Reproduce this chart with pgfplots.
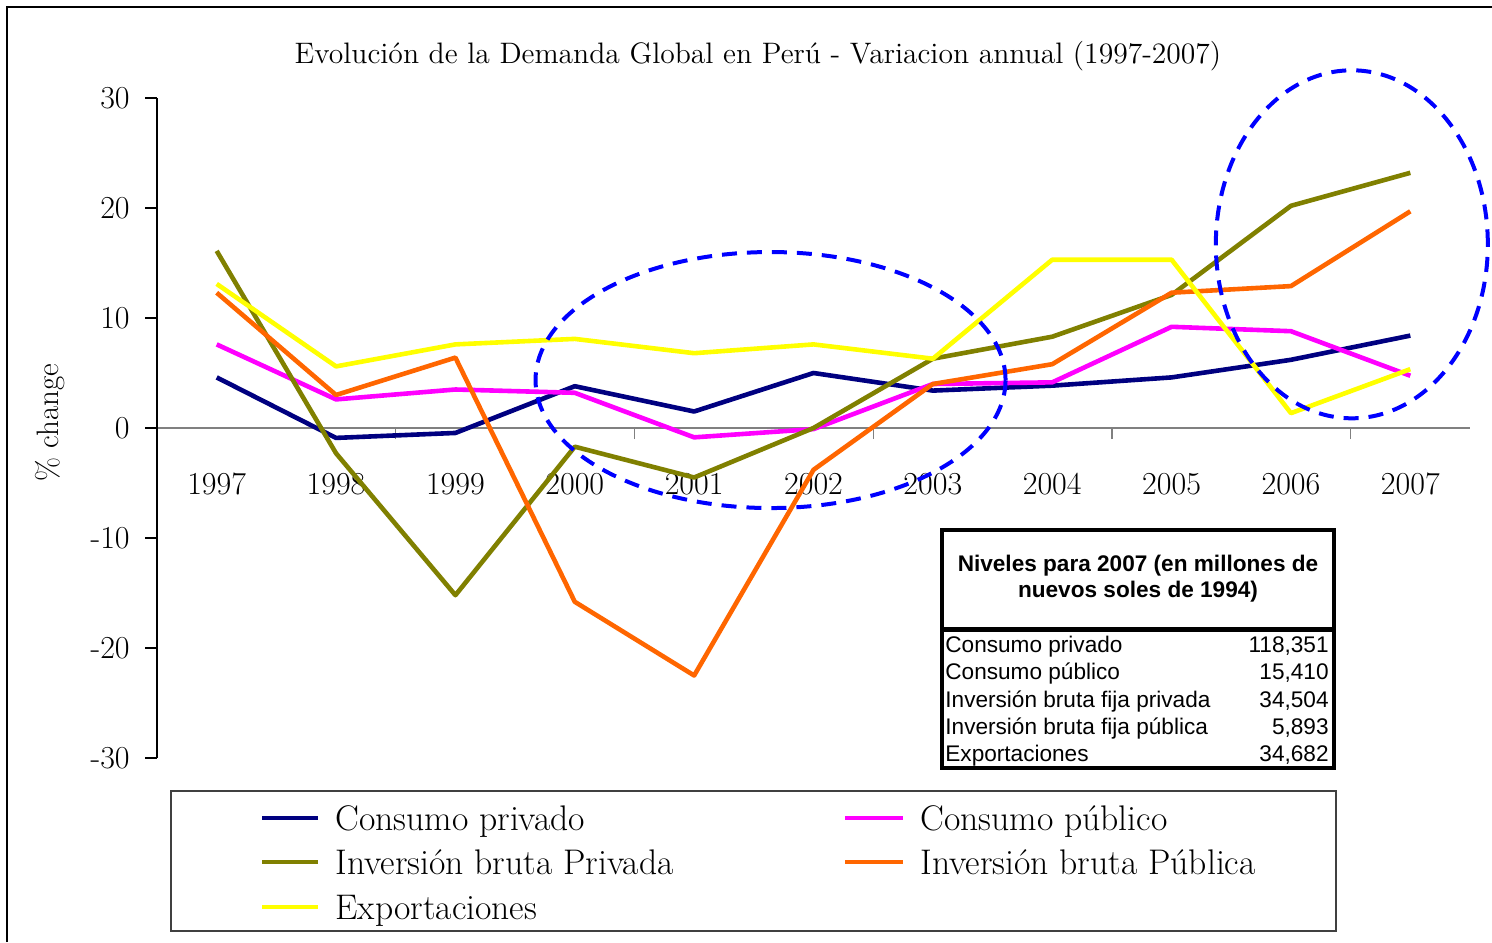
\documentclass[border=0pt]{standalone}
\usepackage{fontspec}
\usepackage{pgfplots}
\pgfplotsset{compat=1.18}
\newfontfamily\arialfont{Liberation Sans}
\definecolor{cpriv}{HTML}{000080}
\definecolor{cpub}{HTML}{FF00FF}
\definecolor{ipriv}{HTML}{808000}
\definecolor{ipub}{HTML}{FF6600}
\definecolor{expo}{HTML}{FFFF00}
\definecolor{ring}{HTML}{0000FF}

\begin{document}
\begin{tikzpicture}
\useasboundingbox (0,0) rectangle (746pt,471pt);
% outer frame (only top and left edges are visible)
\draw[line width=0.9pt] (3.5pt,0) -- (3.5pt,467.5pt) -- (746pt,467.5pt);

\begin{axis}[
  at={(78.5pt,92pt)}, anchor=south west,
  scale only axis, width=656.5pt, height=330pt,
  xmin=1996.5, xmax=2007.5, ymin=-30, ymax=30,
  axis x line=middle, axis y line=left,
  x axis line style={draw=black!50, line width=1pt, -},
  y axis line style={draw=black, line width=0.7pt, -},
  hide obscured x ticks=false, hide obscured y ticks=false,
  clip=false,
  tick align=outside, major tick length=6pt,
  ytick={-30,-20,-10,0,10,20,30},
  yticklabels={-30,-20,-10,0,10,20,30},
  ytick style={draw=black, line width=0.6pt},
  xtick={1997,1998,1999,2000,2001,2002,2003,2004,2005,2006,2007},
  xticklabels={1997,1998,1999,2000,2001,2002,2003,2004,2005,2006,2007},
  xtick style={draw=none},
  extra x ticks={1998.5,2000.5,2002.5,2004.5,2006.5},
  extra x tick labels={},
  extra x tick style={xtick style={draw=black!50, line width=0.6pt}, major tick length=5.5pt},
  tick label style={font=\fontsize{16}{18}\selectfont},
  xticklabel style={anchor=center, yshift=-22pt},
  yticklabel style={anchor=east, inner sep=0pt, xshift=-7.5pt},
  title={Evolución de la Demanda Global en Perú - Variacion annual (1997-2007)},
  title style={at={(axis description cs:0.4577,1.046)}, anchor=center, font=\fontsize{14.8}{17}\selectfont},
  ylabel={\% change},
  every axis y label/.style={at={(axis description cs:-0.0815,0.5076)}, anchor=center, rotate=90, font=\fontsize{15.5}{18}\selectfont},
  every axis plot/.append style={line width=2.3pt, line join=round, mark=none},
]
% Consumo privado
\addplot[cpriv] coordinates {(1997,4.6)(1998,-0.9)(1999,-0.45)(2000,3.8)(2001,1.5)(2002,5.0)(2003,3.4)(2004,3.85)(2005,4.6)(2006,6.2)(2007,8.4)};
% Consumo publico
\addplot[cpub] coordinates {(1997,7.6)(1998,2.6)(1999,3.5)(2000,3.2)(2001,-0.85)(2002,-0.1)(2003,4.0)(2004,4.15)(2005,9.2)(2006,8.8)(2007,4.75)};
% Inversion bruta privada
\addplot[ipriv] coordinates {(1997,16.1)(1998,-2.3)(1999,-15.2)(2000,-1.7)(2001,-4.5)(2002,0.0)(2003,6.3)(2004,8.3)(2005,12.1)(2006,20.2)(2007,23.2)};
% Inversion bruta publica
\addplot[ipub] coordinates {(1997,12.3)(1998,3.0)(1999,6.4)(2000,-15.8)(2001,-22.5)(2002,-3.8)(2003,4.0)(2004,5.8)(2005,12.3)(2006,12.9)(2007,19.7)};
% Exportaciones
\addplot[expo] coordinates {(1997,13.1)(1998,5.6)(1999,7.6)(2000,8.1)(2001,6.8)(2002,7.6)(2003,6.3)(2004,15.3)(2005,15.3)(2006,1.35)(2007,5.35)};

% highlight rings
\draw[ring, line width=2pt, dash pattern=on 7.5pt off 5pt]
  (axis cs:2001.64,4.36) ellipse [x radius=117.5pt, y radius=64pt];
\draw[ring, line width=2pt, dash pattern=on 7.5pt off 5pt]
  (axis cs:2006.51,16.7) ellipse [x radius=68pt, y radius=87pt];
\end{axis}

% inset table
\draw[line width=2pt] (471pt,87pt) rectangle (667pt,206pt);
\draw[line width=2.5pt] (471pt,156pt) -- (667pt,156pt);
\node[align=center, inner sep=0pt, font=\fontsize{11.3}{13}\selectfont\arialfont\bfseries]
  at (569pt,181.5pt) {Niveles para 2007 (en millones de\\nuevos soles de 1994)};
\begin{scope}[every node/.style={inner sep=0pt, font=\fontsize{11.3}{13}\selectfont\arialfont}]
  \node[anchor=base west] at (472.5pt,144.6pt) {Consumo privado};
  \node[anchor=base west] at (472.5pt,131pt) {Consumo público};
  \node[anchor=base west] at (472.5pt,117.4pt) {Inversión bruta fija privada};
  \node[anchor=base west] at (472.5pt,103.8pt) {Inversión bruta fija pública};
  \node[anchor=base west] at (472.5pt,90.2pt) {Exportaciones};
  \node[anchor=base east] at (664.5pt,144.6pt) {118,351};
  \node[anchor=base east] at (664.5pt,131pt) {15,410};
  \node[anchor=base east] at (664.5pt,117.4pt) {34,504};
  \node[anchor=base east] at (664.5pt,103.8pt) {5,893};
  \node[anchor=base east] at (664.5pt,90.2pt) {34,682};
\end{scope}

% legend
\draw[black!75, line width=0.6pt] (85.5pt,5.5pt) rectangle (668pt,75.5pt);
\begin{scope}[every node/.style={inner sep=0pt, anchor=base west, font=\fontsize{17.8}{20}\selectfont}]
  \draw[cpriv, line width=2.3pt] (131pt,62pt) -- (159pt,62pt);
  \node at (167.5pt,56pt) {Consumo privado};
  \draw[cpub, line width=2.3pt] (422.5pt,62pt) -- (451.5pt,62pt);
  \node at (460pt,56pt) {Consumo público};
  \draw[ipriv, line width=2.3pt] (131pt,40pt) -- (159pt,40pt);
  \node at (167.5pt,34pt) {Inversión bruta Privada};
  \draw[ipub, line width=2.3pt] (422.5pt,40pt) -- (451.5pt,40pt);
  \node at (460pt,34pt) {Inversión bruta Pública};
  \draw[expo, line width=2.3pt] (131pt,17.5pt) -- (159pt,17.5pt);
  \node at (167.5pt,11.5pt) {Exportaciones};
\end{scope}
\end{tikzpicture}
\end{document}
